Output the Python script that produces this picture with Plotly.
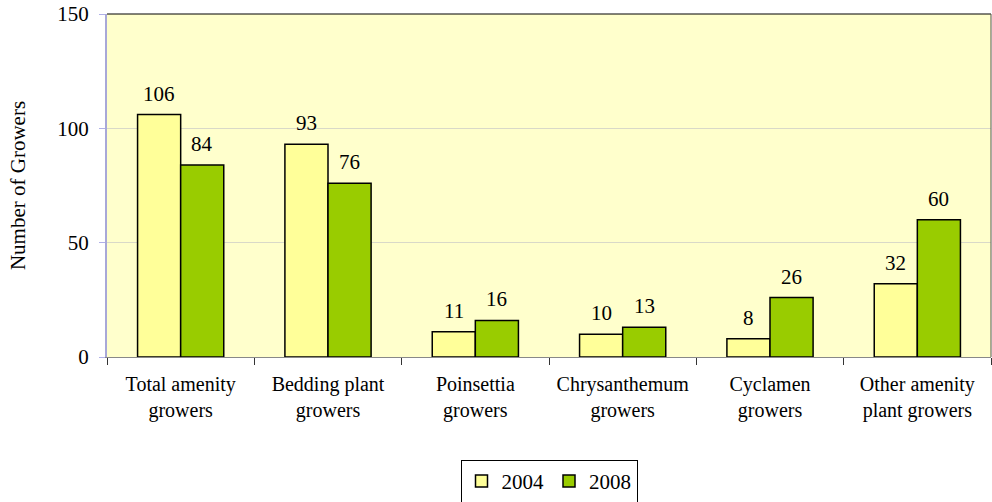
import plotly.graph_objects as go

categories = ["Total amenity<br>growers", "Bedding plant<br>growers", "Poinsettia<br>growers",
              "Chrysanthemum<br>growers", "Cyclamen<br>growers", "Other amenity<br>plant growers"]
series_names = ["2004", "2008"]
values_2004 = [106, 93, 11, 10, 8, 32]
values_2008 = [84, 76, 16, 13, 26, 60]
y_ticks = [0, 50, 100, 150]

font_family = "Liberation Serif"
bar_colors = ["#FFFF99", "#99CC00"]

fig = go.Figure()
for name, vals, col in zip(series_names, [values_2004, values_2008], bar_colors):
    fig.add_trace(go.Bar(
        name=name, x=categories, y=vals,
        marker=dict(color=col, line=dict(color="black", width=1.5)),
    ))

# value labels above bars, shifted to each bar of the group
plot_w = 992 - 107 - 1
bargap = 0.415
bar_px = plot_w / len(categories) * (1 - bargap) / 2
for k, vals in enumerate([values_2004, values_2008]):
    shift = (k - 0.5) * bar_px
    for c, v in zip(categories, vals):
        fig.add_annotation(x=c, y=v, text=str(v), showarrow=False, xref="x", yref="y",
                           yanchor="bottom", xshift=shift, yshift=7,
                           font=dict(size=21, color="black", family=font_family))

fig.update_layout(
    width=992, height=502,
    margin=dict(l=107, r=1, t=14, b=145, autoexpand=False),
    paper_bgcolor="white", plot_bgcolor="#FFFFCC",
    barmode="group", bargap=bargap, bargroupgap=0,
    font=dict(family=font_family, size=20, color="black"),
    showlegend=True,
    legend=dict(orientation="h", x=0.5, xanchor="center", y=-0.3, yanchor="top",
                bordercolor="black", borderwidth=1, font=dict(size=21, family=font_family),
                itemwidth=30, traceorder="normal"),
)
fig.update_xaxes(
    type="category", tickson="boundaries", ticks="outside", ticklen=7, tickcolor="#333333",
    showline=True, linecolor="#888888", linewidth=1, tickfont=dict(size=20, family=font_family),
    showgrid=False, automargin=False, ticklabelstandoff=9,
)
fig.update_yaxes(
    range=[0, 150], tickvals=y_ticks, ticks="outside", ticklen=6, tickcolor="#B0B0E8",
    showline=True, linecolor="#A8A8D8", linewidth=2, gridcolor="#D9D9C8",
    tickfont=dict(size=21, family=font_family), zeroline=False, automargin=False,
    ticklabelstandoff=6,
    title=dict(text="Number of Growers", font=dict(size=21, family=font_family), standoff=26),
)
# top and right border of plot area
fig.add_shape(type="line", xref="paper", yref="paper", x0=0, x1=1, y0=1, y1=1,
              line=dict(color="black", width=1))
fig.add_shape(type="line", xref="paper", yref="paper", x0=1, x1=1, y0=0, y1=1,
              line=dict(color="#555544", width=1))

fig.write_html("out.html", config={"displayModeBar": False},
               post_script="document.body.style.margin='0';")
